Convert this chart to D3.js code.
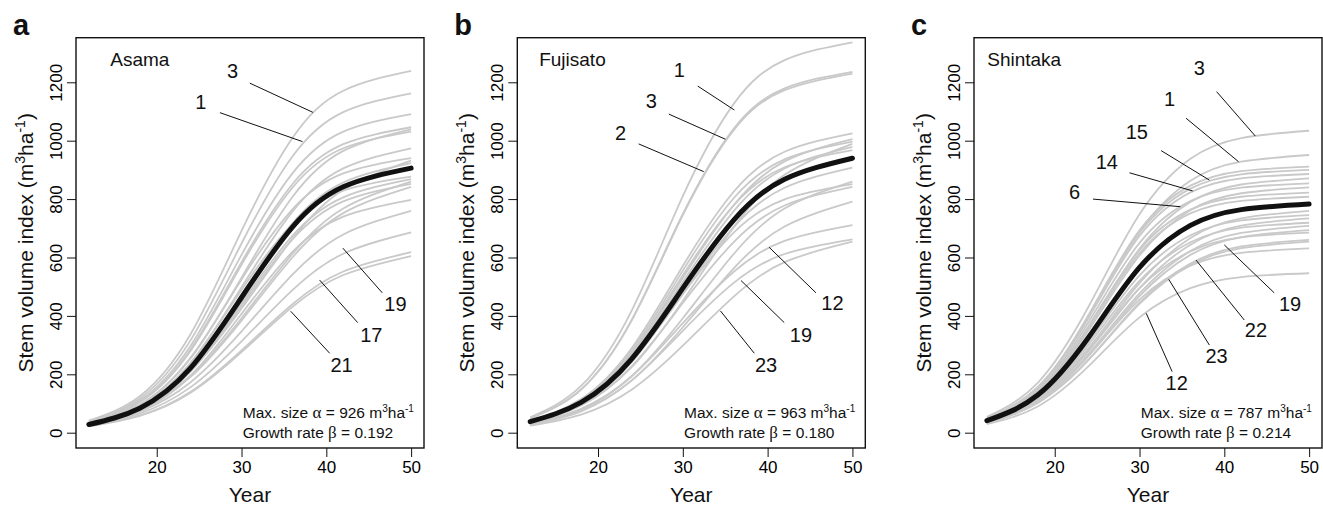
<!DOCTYPE html>
<html>
<head>
<meta charset="utf-8">
<script src="https://cdn.jsdelivr.net/npm/d3@7"></script>
<style>
	body { margin: 0; background: #fff; }
	text { font-family: "Liberation Sans", Arial, Helvetica, sans-serif; }
</style>
</head>
<body>
<script>
(function() {

	var years = [12, 18, 24, 30, 36, 42, 50];

	var xTicks = [20, 30, 40, 50];
	var yTicks = [0, 200, 400, 600, 800, 1000, 1200];

	var sites = ["Asama", "Fujisato", "Shintaka"];
	var letters = ["a", "b", "c"];
	var alphas = [926, 963, 787];
	var betas = ["0.192", "0.180", "0.214"];

	// mean curve (thick black) per site
	var asamaMean = [28, 84, 222, 463, 704, 842, 906];
	var fujisatoMean = [38, 104, 254, 495, 728, 868, 940];
	var shintakaMean = [41, 129, 327, 566, 710, 764, 783];

	// curves of single plots (grey)
	var asamaCurves = [
		[41, 125, 338, 691, 1009, 1171, 1239],
		[38, 117, 317, 648, 946, 1098, 1162],
		[36, 110, 298, 609, 888, 1031, 1091],
		[34, 106, 286, 584, 851, 988, 1046],
		[32, 96, 255, 531, 807, 965, 1039],
		[34, 104, 281, 575, 839, 974, 1031],
		[30, 90, 239, 498, 757, 905, 974],
		[31, 95, 257, 525, 765, 888, 940],
		[34, 89, 212, 425, 664, 832, 932],
		[29, 86, 226, 472, 717, 857, 923],
		[29, 89, 239, 489, 714, 829, 877],
		[27, 80, 213, 444, 674, 806, 868],
		[31, 82, 195, 392, 612, 768, 860],
		[26, 79, 209, 435, 662, 792, 852],
		[31, 80, 191, 384, 600, 752, 842],
		[25, 74, 195, 407, 619, 740, 797],
		[28, 73, 173, 347, 541, 679, 760],
		[25, 66, 156, 313, 488, 613, 686],
		[23, 59, 140, 282, 440, 552, 618],
		[22, 58, 137, 276, 431, 540, 605]
	];

	var fujisatoCurves = [
		[53, 160, 420, 810, 1126, 1276, 1337],
		[49, 148, 388, 749, 1041, 1179, 1236],
		[49, 148, 386, 745, 1036, 1173, 1230],
		[40, 115, 291, 571, 825, 962, 1025],
		[41, 112, 272, 530, 779, 929, 1005],
		[39, 112, 283, 555, 803, 936, 997],
		[36, 94, 225, 451, 704, 883, 989],
		[40, 109, 265, 516, 759, 905, 979],
		[37, 108, 275, 539, 779, 909, 968],
		[37, 101, 246, 479, 704, 839, 908],
		[31, 82, 195, 392, 612, 768, 860],
		[33, 95, 242, 474, 685, 799, 851],
		[34, 93, 228, 444, 653, 778, 842],
		[29, 76, 180, 361, 563, 706, 791],
		[29, 79, 193, 375, 551, 657, 711],
		[27, 73, 179, 349, 513, 612, 662],
		[24, 62, 148, 298, 466, 584, 654]
	];

	var shintakaCurves = [
		[54, 171, 432, 748, 938, 1009, 1034],
		[50, 157, 398, 688, 863, 928, 951],
		[44, 152, 404, 693, 846, 896, 911],
		[43, 150, 400, 685, 836, 885, 900],
		[43, 148, 393, 674, 823, 871, 886],
		[46, 144, 364, 630, 790, 850, 871],
		[41, 143, 379, 650, 793, 839, 854],
		[44, 139, 351, 607, 762, 820, 840],
		[39, 137, 365, 626, 764, 808, 822],
		[39, 135, 359, 615, 751, 794, 808],
		[40, 119, 290, 512, 667, 734, 760],
		[39, 123, 311, 539, 676, 727, 745],
		[39, 115, 280, 495, 644, 709, 734],
		[38, 119, 301, 520, 652, 702, 719],
		[37, 110, 270, 477, 622, 684, 708],
		[36, 108, 264, 468, 609, 670, 694],
		[36, 113, 286, 495, 621, 669, 685],
		[35, 103, 251, 445, 579, 638, 660],
		[34, 102, 249, 441, 574, 632, 654],
		[33, 104, 264, 456, 572, 616, 631],
		[29, 90, 228, 395, 495, 533, 546]
	];

	// plot labels: text, text year, text value, leader from (year, value) to (year, value)
	var asamaLabels = [
		["3", 28.94, 1240, 30.98, 1197, 38.42, 1097],
		["1", 25.2, 1134, 27.45, 1096, 37.18, 997],
		["19", 48.15, 441, 46.6, 479, 41.95, 632],
		["17", 45.3, 335, 43.7, 377, 39.2, 523],
		["21", 41.8, 232, 40.4, 272, 35.8, 416]
	];
	var fujisatoLabels = [
		["1", 29.58, 1242, 31.76, 1187, 36.08, 1105],
		["3", 26.28, 1137, 28.35, 1091, 35.02, 1005],
		["2", 22.67, 1027, 24.79, 989, 32.47, 894],
		["12", 47.65, 443, 45.7, 479, 40.18, 635],
		["19", 43.93, 335, 41.96, 377, 36.87, 521],
		["23", 39.82, 232, 38.43, 272, 34.44, 417]
	];
	var shintakaLabels = [
		["3", 37.06, 1248, 39.09, 1168, 43.65, 1016],
		["1", 33.53, 1142, 35.49, 1077, 41.68, 928],
		["15", 29.68, 1031, 32.55, 966, 38.24, 865],
		["14", 26.15, 928, 28.82, 890, 36.27, 828],
		["6", 22.35, 825, 24.51, 800, 34.82, 774],
		["19", 47.76, 441, 45.88, 479, 40.0, 643],
		["22", 43.73, 352, 42.35, 386, 36.67, 591],
		["23", 39.09, 263, 38.24, 300, 33.45, 525],
		["12", 34.39, 169, 33.85, 209, 30.79, 409]
	];

	var nameYears = [14.52, 13.06, 12.04];

	var panels = [
		{ mean: asamaMean, curves: asamaCurves, labels: asamaLabels },
		{ mean: fujisatoMean, curves: fujisatoCurves, labels: fujisatoLabels },
		{ mean: shintakaMean, curves: shintakaCurves, labels: shintakaLabels }
	];

	// layout
	var boxLeft = [76, 517.3, 974];
	var boxWidth = 348;
	var boxTop = 37.7;
	var boxBottom = 448;
	var font = '"Liberation Sans", Arial, Helvetica, sans-serif';

	var svg = d3.select("body")
		.append("svg")
		.attr("width", 1323)
		.attr("height", 505);

	panels.forEach(function(p, i) {
		var left = boxLeft[i];
		var g = svg.append("g");

		var x = d3.scaleLinear()
			.domain([10.48, 51.52])
			.range([left, left + boxWidth]);

		var y = d3.scaleLinear()
			.domain([-52.4, 1352.7])
			.range([boxBottom, boxTop]);

		var line = d3.line()
			.x(function(d, j) { return x(years[j]); })
			.y(function(d) { return y(d); })
			.curve(d3.curveNatural);

		// grey plot curves
		g.selectAll("path.plot")
			.data(p.curves)
			.enter().append("path")
			.attr("class", "plot")
			.attr("d", line)
			.attr("fill", "none")
			.attr("stroke", "#c9c9c9")
			.attr("stroke-width", 1.8);

		// mean curve
		g.append("path")
			.datum(p.mean)
			.attr("d", line)
			.attr("fill", "none")
			.attr("stroke", "#111")
			.attr("stroke-width", 5)
			.attr("stroke-linecap", "round");

		// box
		g.append("rect")
			.attr("x", left)
			.attr("y", boxTop)
			.attr("width", boxWidth)
			.attr("height", boxBottom - boxTop)
			.attr("fill", "none")
			.attr("stroke", "#111")
			.attr("stroke-width", 1.4);

		// x axis
		var xa = g.append("g")
			.attr("transform", "translate(0," + boxBottom + ")")
			.call(d3.axisBottom(x).tickValues(xTicks).tickSize(9).tickPadding(4));
		xa.select(".domain").remove();
		xa.attr("font-size", 17).attr("font-family", font);
		xa.selectAll("line").attr("stroke", "#111");

		// y axis, labels parallel to the axis
		var ya = g.append("g")
			.attr("transform", "translate(" + left + ",0)")
			.call(d3.axisLeft(y).tickValues(yTicks).tickSize(9).tickFormat(d3.format("d")));
		ya.select(".domain").remove();
		ya.attr("font-size", 17).attr("font-family", font);
		ya.selectAll("line").attr("stroke", "#111");
		ya.selectAll("text")
			.attr("transform", "rotate(-90)")
			.attr("x", 0)
			.attr("y", -14.3)
			.attr("dy", 0)
			.attr("text-anchor", "middle");

		// axis titles
		var yt = g.append("text")
			.attr("transform", "translate(" + (left - 43) + "," + ((boxTop + boxBottom) / 2) + ") rotate(-90)")
			.attr("text-anchor", "middle")
			.attr("font-size", 21)
			.attr("fill", "#111");
		yt.append("tspan").text("Stem volume index (m");
		yt.append("tspan").attr("font-size", 14).attr("dy", -8).text("3");
		yt.append("tspan").attr("dy", 8).text("ha");
		yt.append("tspan").attr("font-size", 14).attr("dy", -8).text("-1");
		yt.append("tspan").attr("dy", 8).text(")");

		g.append("text")
			.attr("x", left + boxWidth / 2)
			.attr("y", 502)
			.attr("text-anchor", "middle")
			.attr("font-size", 21)
			.attr("fill", "#111")
			.text("Year");

		// panel letter
		g.append("text")
			.attr("x", left - 63)
			.attr("y", 35)
			.attr("font-size", 29)
			.attr("font-weight", "bold")
			.attr("fill", "#111")
			.text(letters[i]);

		// site name
		g.append("text")
			.attr("x", x(nameYears[i]))
			.attr("y", y(1256))
			.attr("font-size", 19)
			.attr("fill", "#111")
			.text(sites[i]);

		// plot labels with leaders
		g.selectAll("line.leader")
			.data(p.labels)
			.enter().append("line")
			.attr("class", "leader")
			.attr("x1", function(d) { return x(d[3]); })
			.attr("y1", function(d) { return y(d[4]); })
			.attr("x2", function(d) { return x(d[5]); })
			.attr("y2", function(d) { return y(d[6]); })
			.attr("stroke", "#111")
			.attr("stroke-width", 1);

		g.selectAll("text.lab")
			.data(p.labels)
			.enter().append("text")
			.attr("class", "lab")
			.attr("x", function(d) { return x(d[1]); })
			.attr("y", function(d) { return y(d[2]); })
			.attr("dy", "0.35em")
			.attr("text-anchor", "middle")
			.attr("font-size", 20)
			.attr("fill", "#111")
			.text(function(d) { return d[0]; });

		// parameter note
		var t1 = g.append("text")
			.attr("x", x(30.15))
			.attr("y", y(49))
			.attr("font-size", 15.5)
			.attr("fill", "#111");
		t1.append("tspan").text("Max. size ");
		t1.append("tspan").attr("font-family", '"Liberation Serif", serif').attr("font-size", 17).text("\u03b1");
		t1.append("tspan").text(" = " + alphas[i] + " m");
		t1.append("tspan").attr("font-size", 10).attr("dy", -6).text("3");
		t1.append("tspan").attr("dy", 6).text("ha");
		t1.append("tspan").attr("font-size", 10).attr("dy", -6).text("-1");

		var t2 = g.append("text")
			.attr("x", x(30.15))
			.attr("y", y(-19))
			.attr("font-size", 15.5)
			.attr("fill", "#111");
		t2.append("tspan").text("Growth rate ");
		t2.append("tspan").attr("font-family", '"Liberation Serif", serif').attr("font-size", 17).text("\u03b2");
		t2.append("tspan").text(" = " + betas[i]);
	});

})();
</script>
</body>
</html>
